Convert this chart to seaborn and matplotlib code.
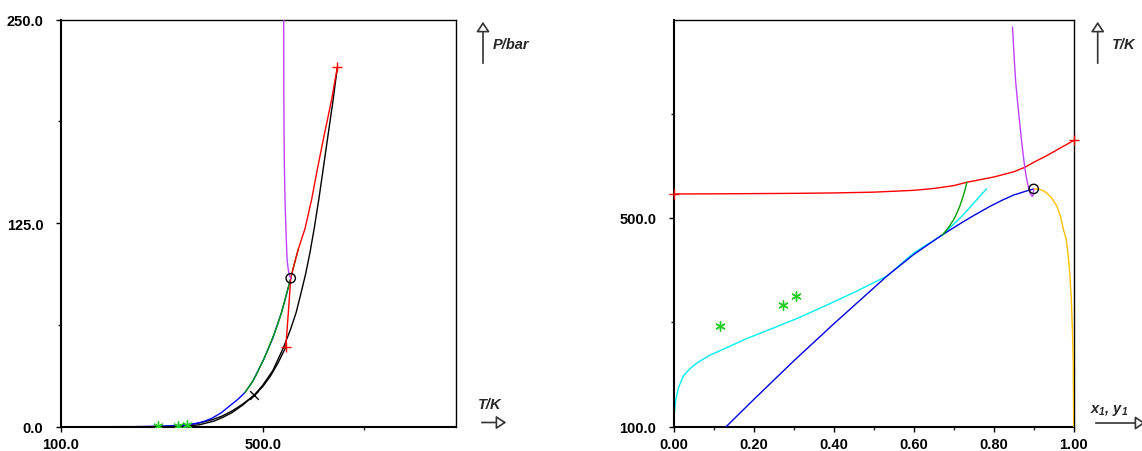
import numpy as np
import pandas as pd
import matplotlib
matplotlib.use('Agg')
import matplotlib.pyplot as plt
from matplotlib.ticker import FixedLocator, FormatStrFormatter
import seaborn as sns

# ---- left panel: P-T projection (T in K, P in bar) ----
water_T = [273, 300, 325, 347.5, 375, 404, 420, 439, 460, 483, 500, 520, 541, 555, 566, 576,
           585, 593.5, 602, 611, 620, 630, 639, 647.7]
water_P = [0.0, 0.05, 0.15, 0.4, 1.2, 3.5, 5.6, 8.6, 13.2, 19.3, 25.5, 34.5, 48.6, 59.8, 70.0, 82.4,
           94.0, 107.0, 122.0, 139.7, 159.0, 180.7, 200.0, 220.8]
comp2_T = [250, 275, 300, 325, 350, 375, 400, 420, 440, 460, 483, 500, 515, 530, 545.5]
comp2_P = [0.03, 0.08, 0.2, 0.5, 1.1, 2.3, 4.3, 6.6, 9.8, 13.8, 19.3, 24.6, 31.0, 39.0, 48.8]
llv_T = [100, 200, 250, 275, 300, 325, 350, 370, 385, 400, 418, 435, 450, 465, 480, 502, 520, 537,
         546, 555.4]
llv_P = [0.0, 0.01, 0.05, 0.12, 0.3, 0.6, 1.2, 2.1, 3.4, 5.3, 8.6, 12.9, 16.6, 21.1, 27.8, 41.4,
         54.5, 70.0, 80.2, 91.2]
green_T = [465, 475, 485, 502, 511, 520, 529, 537, 546, 555.4, 563, 570.5]
green_P = [21.1, 25.5, 30.5, 41.4, 48.0, 55.0, 62.3, 70.0, 80.2, 91.2, 100.5, 109.2]
crit_T = [647.7, 642, 636.6, 628, 620, 608, 597, 584, 570.5, 562, 555.4, 552.5, 549, 545.5]
crit_P = [220.8, 211.0, 201.3, 188.5, 176.7, 158.0, 139.9, 122.0, 109.2, 99.5, 91.2, 78.0, 63.0, 48.8]
purple_T = [541.5, 541.6, 541.8, 542.2, 542.8, 544.0, 546.1, 548.1, 550.5, 553.0, 555.4]
purple_P = [250.4, 225.0, 201.2, 180.0, 160.3, 140.0, 119.4, 103.0, 96.5, 92.8, 91.2]
exp_T = [293.3, 333.0, 349.5]
exp_P = [0.2, 0.6, 1.2]
cep_T, cep_P = [555.4], [91.2]
banc_T, banc_P = [483], [19.3]
pc_T, pc_P = [647.7, 545.5], [220.8, 48.8]

# ---- right panel: T-x projection ----
crit_x = [0.0, 0.1, 0.2, 0.3, 0.4, 0.5, 0.6, 0.65, 0.7, 0.733, 0.766, 0.8, 0.85, 0.878, 0.9,
          0.9325, 0.965, 1.0]
crit_Tx = [546, 546.3, 546.7, 547.2, 548, 549.5, 553, 556.5, 562, 568.5, 573.4, 578.5, 588.5,
           597.2, 606.7, 619.4, 633.5, 648.5]
blue_x = [0.131, 0.2, 0.3, 0.4, 0.534, 0.6, 0.671, 0.72, 0.753, 0.79, 0.821, 0.85, 0.881, 0.9]
blue_T = [100, 152, 226, 297, 389.3, 430, 467.4, 491, 506, 522, 534, 544, 551.5, 555.7]
cyan_x = [0.0, 0.002, 0.0055, 0.012, 0.024, 0.04, 0.06, 0.09, 0.124, 0.18, 0.242, 0.31, 0.379,
          0.45, 0.534, 0.6, 0.671, 0.72, 0.782]
cyan_T = [100, 130, 152, 175, 197, 211, 223, 237, 248.5, 268, 287, 308, 331.7, 357, 389, 433,
          467, 503, 555.7]
green_x = [0.671, 0.68, 0.69, 0.7, 0.707, 0.715, 0.722, 0.728, 0.733]
green_Tx = [467, 475, 485, 497, 508, 522, 538, 553, 568.5]
orange_x = [0.9, 0.912, 0.922, 0.9325, 0.945, 0.9575, 0.967, 0.974, 0.981, 0.986, 0.99, 0.994,
            0.997, 0.999, 1.0]
orange_T = [555.7, 555.5, 553, 548, 538, 523.6, 503, 479, 460, 430, 395, 344.5, 280, 216.5, 100]
purple_x = [0.847, 0.851, 0.855, 0.86, 0.864, 0.87, 0.876, 0.88, 0.885, 0.889, 0.892, 0.895,
            0.8975, 0.899, 0.9]
purple_Tx = [866, 810, 760.5, 720, 689.6, 645, 607, 585, 565, 552, 546, 542.5, 541.6, 546, 555.6]
exp_x = [0.115, 0.2726, 0.3045]
exp_Tx = [293, 333.6, 350]
cep_x, cep_Tx = [0.9], [555.7]
pcx, pcx_T = [0.0, 1.0], [546, 648.5]

sns.set_style('white')
plt.rcParams['font.family'] = ['Liberation Sans', 'DejaVu Sans']
plt.rcParams['font.weight'] = 'bold'
plt.rcParams['mathtext.fontset'] = 'custom'
plt.rcParams['mathtext.rm'] = 'Liberation Sans:italic:bold'
plt.rcParams['mathtext.it'] = 'Liberation Sans:italic:bold'

W, H = 1142, 452
fig = plt.figure(figsize=(W / 100, H / 100), dpi=100)
axL = fig.add_axes([60.7 / W, (H - 427.7) / H, 395 / W, 407 / H])
axR = fig.add_axes([673.7 / W, (H - 427.7) / H, 400 / W, 407 / H])

lw = 1.0
purple = '#BF40FF'
mgreen = '#22CC22'


def line(ax, x, y, c, z=2):
    sns.lineplot(x=x, y=y, ax=ax, color=c, lw=lw, sort=False, estimator=None, zorder=z)


# left panel
line(axL, water_T, water_P, 'black', 1)
line(axL, comp2_T, comp2_P, 'black', 1)
line(axL, llv_T, llv_P, '#0000FF', 2)
line(axL, green_T, green_P, '#00A000', 3)
line(axL, crit_T, crit_P, '#FF0000', 3)
line(axL, purple_T, purple_P, purple, 3)
sns.scatterplot(x=pc_T, y=pc_P, ax=axL, marker='+', color='red', s=60, linewidth=1, zorder=5)
sns.scatterplot(x=exp_T, y=exp_P, ax=axL, marker=(6, 2, 0), color=mgreen, s=45, linewidth=1, zorder=5)
sns.scatterplot(x=banc_T, y=banc_P, ax=axL, marker='x', color='black', s=40, linewidth=1, zorder=5)
axL.scatter(cep_T, cep_P, s=45, facecolors='none', edgecolors='black', linewidths=1, zorder=6)
axL.set_xlim(100, 882)
axL.set_ylim(0, 250)
axL.xaxis.set_major_locator(FixedLocator([100, 500]))
axL.xaxis.set_minor_locator(FixedLocator([700]))
axL.yaxis.set_major_locator(FixedLocator([0, 125, 250]))
axL.yaxis.set_minor_locator(FixedLocator([62.5, 187.5]))
axL.xaxis.set_major_formatter(FormatStrFormatter('%.1f'))
axL.yaxis.set_major_formatter(FormatStrFormatter('%.1f'))

# right panel
line(axR, crit_x, crit_Tx, '#FF0000', 2)
line(axR, blue_x, blue_T, '#0000E0', 3)
line(axR, cyan_x, cyan_T, '#00F0F0', 2)
line(axR, green_x, green_Tx, '#00A000', 3)
line(axR, orange_x, orange_T, '#FFC000', 3)
line(axR, purple_x, purple_Tx, purple, 3)
sns.scatterplot(x=pcx, y=pcx_T, ax=axR, marker='+', color='red', s=60, linewidth=1, zorder=5, clip_on=False)
sns.scatterplot(x=exp_x, y=exp_Tx, ax=axR, marker=(6, 2, 0), color=mgreen, s=45, linewidth=1, zorder=5)
axR.scatter(cep_x, cep_Tx, s=45, facecolors='none', edgecolors='black', linewidths=1, zorder=6)
axR.set_xlim(0, 1)
axR.set_ylim(100, 880)
axR.xaxis.set_major_locator(FixedLocator([0, 0.2, 0.4, 0.6, 0.8, 1.0]))
axR.xaxis.set_minor_locator(FixedLocator([0.1, 0.3, 0.5, 0.7, 0.9]))
axR.yaxis.set_major_locator(FixedLocator([100, 500]))
axR.yaxis.set_minor_locator(FixedLocator([300, 700]))
axR.xaxis.set_major_formatter(FormatStrFormatter('%.2f'))
axR.yaxis.set_major_formatter(FormatStrFormatter('%.1f'))

for ax in (axL, axR):
    ax.set_xlabel('')
    ax.set_ylabel('')
    for s in ('left', 'bottom'):
        ax.spines[s].set_linewidth(1.5)
    for s in ('top', 'right'):
        ax.spines[s].set_linewidth(1.0)
    for s in ax.spines.values():
        s.set_color('black')
    ax.tick_params(which='major', direction='out', length=3.5, width=1, colors='black',
                   labelsize=10.5, bottom=True, left=True)
    ax.tick_params(which='minor', direction='out', length=2.5, width=1, bottom=True, left=True)
    ax.tick_params(axis='y', pad=9)
    ax.tick_params(axis='x', pad=4)
    for t in ax.get_xticklabels() + ax.get_yticklabels():
        t.set_fontweight('bold')


def arrow(x0, y0, x1, y1):
    fig.patches.append(matplotlib.patches.FancyArrowPatch(
        (x0, H - y0), (x1, H - y1), transform=None, arrowstyle='-|>,head_length=6,head_width=4',
        mutation_scale=1, fc='white', ec='#333333', lw=1.2))


arrow(483, 67, 483, 20)
fig.text(493 / W, (H - 45) / H, 'P/bar', fontsize=10.5, fontweight='bold', style='italic', va='center', ha='left')
arrow(479, 423.5, 509, 423.5)
fig.text(478 / W, (H - 405) / H, 'T/K', fontsize=10.5, fontweight='bold', style='italic', va='center', ha='left')

arrow(1097.7, 67, 1097.7, 20)
fig.text(1112 / W, (H - 45) / H, 'T/K', fontsize=10.5, fontweight='bold', style='italic', va='center', ha='left')
arrow(1093, 424, 1148, 424)
fig.text(1090 / W, (H - 411) / H, r'$x_1$, $y_1$', fontsize=10.5, fontweight='bold',
         style='italic', va='center', ha='left')

fig.savefig('out.png', dpi=100)
